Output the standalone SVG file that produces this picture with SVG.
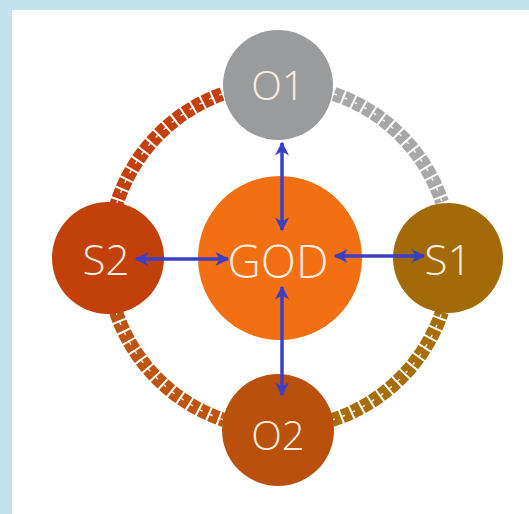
<svg xmlns="http://www.w3.org/2000/svg" width="529" height="514" viewBox="0 0 529 514">
<defs>
<style>
.lbl{font-family:"Open Sans","Noto Sans","Liberation Sans",sans-serif;fill:#fbeee0;text-anchor:middle;dominant-baseline:central;font-weight:300}
.ring{fill:none;stroke-width:14;stroke-dasharray:9 2}
.ring2{fill:none;stroke:#ffffff;stroke-width:1.5;stroke-dasharray:3 8;opacity:0.85}
.arr{stroke:#3b3fc4;stroke-width:3.5;fill:none;marker-start:url(#ah);marker-end:url(#ah)}
</style>
<marker id="ah" viewBox="0 0 10 10" refX="9" refY="5" markerWidth="4" markerHeight="4" orient="auto-start-reverse" markerUnits="strokeWidth">
<path d="M0,0 L10,5 L0,10 L3,5 z" fill="#3b3fc4"/>
</marker>
</defs>
<rect x="0" y="0" width="529" height="514" fill="#c4e2ec"/>
<rect x="12" y="10" width="517" height="504" fill="#ffffff"/>
<g id="connectors">
<path class="ring" stroke="#a8a8a8" d="M334,94 A172,172 0 0 1 442,202"/>
<path class="ring" stroke="#c4400b" d="M222,94 A172,172 0 0 0 116,206"/>
<path class="ring" stroke="#bd5510" d="M116,312 A172,172 0 0 0 224,420"/>
<path class="ring" stroke="#a86d08" d="M332,420 A172,172 0 0 0 442,312"/>
<path class="ring2" d="M334,94 A172,172 0 0 1 442,202"/>
<path class="ring2" d="M222,94 A172,172 0 0 0 116,206"/>
<path class="ring2" d="M116,312 A172,172 0 0 0 224,420"/>
<path class="ring2" d="M332,420 A172,172 0 0 0 442,312"/>
</g>
<g id="O1"><circle cx="278" cy="85" r="55" fill="#9a9b9d"/><text class="lbl" x="278" y="84" font-size="40">O1</text></g>
<g id="S2"><circle cx="108" cy="258" r="56" fill="#c2410b"/><text class="lbl" x="106" y="258" font-size="42">S2</text></g>
<g id="S1"><circle cx="448" cy="258" r="55" fill="#a26a08"/><text class="lbl" x="448" y="258" font-size="42">S1</text></g>
<g id="O2"><circle cx="278" cy="430" r="56" fill="#b9500c"/><text class="lbl" x="278" y="434" font-size="40">O2</text></g>
<g id="GOD"><circle cx="280" cy="258" r="82" fill="#f26f12"/><text class="lbl" x="278" y="260" font-size="46">GOD</text></g>
<g id="arrows">
<line class="arr" x1="282" y1="143" x2="282" y2="230"/>
<line class="arr" x1="282" y1="287" x2="282" y2="395"/>
<line class="arr" x1="136" y1="259" x2="228" y2="259"/>
<line class="arr" x1="335" y1="256" x2="424" y2="256"/>
</g>
</svg>
